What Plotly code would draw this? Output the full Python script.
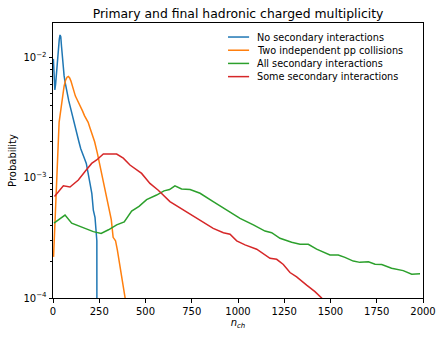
import plotly.graph_objects as go

# n_ch values and probabilities
blue_n = [2, 6, 10, 14, 18, 22, 26, 30, 34, 38, 42, 46, 50, 55, 60, 65, 70, 75, 80,
          85, 90, 95, 100, 110, 120, 130, 140, 150, 160, 170, 180, 190, 200, 210,
          218, 227, 234, 237, 238]
blue_p = [0.0098, 0.0072, 0.0054, 0.0060, 0.0072, 0.0090, 0.0108, 0.0125, 0.0143,
          0.0155, 0.0150, 0.0125, 0.0103, 0.0085, 0.0071, 0.0063, 0.0057, 0.0051,
          0.0047, 0.0044, 0.0041, 0.0038, 0.0035, 0.0030, 0.0027, 0.0023, 0.0020,
          0.00175, 0.00162, 0.00145, 0.00132, 0.00112, 0.00090, 0.00074, 0.00054,
          0.00047, 0.00037, 0.00030, 0.000001]

orange_n = [3, 8, 13, 18, 23, 28, 33, 38, 45, 52, 60, 68, 76, 83, 90, 97, 105, 113,
            121, 130, 140, 150, 160, 170, 180, 190, 200, 212, 225, 240, 255, 270,
            285, 300, 315, 325, 332, 338, 348, 360, 375, 390, 400]
orange_p = [0.00022, 0.00035, 0.0006, 0.0010, 0.0016, 0.0023, 0.0029, 0.0033,
            0.0040, 0.0048, 0.0058, 0.0065, 0.0069, 0.0070, 0.0068, 0.0064, 0.0058,
            0.0052, 0.0048, 0.0045, 0.0042, 0.0039, 0.0036, 0.0033, 0.0031, 0.0029,
            0.0026, 0.0023, 0.0020, 0.0016, 0.00124, 0.00098, 0.00075, 0.00058,
            0.00045, 0.00032, 0.00031, 0.00030, 0.00025, 0.00019, 0.00014, 0.0001,
            0.00008]

green_n = [5, 30, 65, 101, 155, 218, 260, 300, 344, 385, 425, 465, 506, 560, 600,
           630, 659, 695, 741, 795, 866, 939, 1011, 1083, 1146, 1182, 1227, 1290,
           1335, 1380, 1425, 1497, 1542, 1578, 1623, 1659, 1705, 1741, 1777, 1830,
           1893, 1939, 1984]
green_p = [0.00042, 0.00045, 0.00049, 0.00042, 0.00039, 0.000357, 0.000345,
           0.00037, 0.000406, 0.00043, 0.00053, 0.00058, 0.00066, 0.00072, 0.00078,
           0.0008, 0.00086, 0.00081, 0.00080, 0.000745, 0.000635, 0.00054, 0.00046,
           0.000406, 0.000361, 0.00035, 0.000314, 0.000291, 0.00028, 0.00028,
           0.000255, 0.000228, 0.000228, 0.000218, 0.000203, 0.000198, 0.0002,
           0.000191, 0.00019, 0.000177, 0.000169, 0.000158, 0.000159]

red_n = [8, 56, 92, 137, 173, 209, 236, 272, 344, 380, 416, 479, 524, 569, 632,
         705, 768, 812, 866, 921, 957, 993, 1038, 1101, 1173, 1209, 1245, 1281,
         1317, 1371, 1416, 1452, 1480]
red_p = [0.0007, 0.00086, 0.00084, 0.00096, 0.00113, 0.00132, 0.00141, 0.00158,
         0.00158, 0.00146, 0.00128, 0.00109, 0.0009, 0.00079, 0.000635, 0.00054,
         0.000476, 0.00043, 0.00038, 0.00035, 0.00034, 0.000299, 0.000277,
         0.000255, 0.000214, 0.00021, 0.00019, 0.000163, 0.00015, 0.000128,
         0.000113, 0.0001, 0.00008]

series = [
    ("No secondary interactions", blue_n, blue_p, "#1f77b4"),
    ("Two independent pp collisions", orange_n, orange_p, "#ff7f0e"),
    ("All secondary interactions", green_n, green_p, "#2ca02c"),
    ("Some secondary interactions", red_n, red_p, "#d62728"),
]

x_ticks = [0, 250, 500, 750, 1000, 1250, 1500, 1750, 2000]
y_ticks = [1e-4, 1e-3, 1e-2]
y_ticktext = ["10<sup>\u22124</sup>", "10<sup>\u22123</sup>", "10<sup>\u22122</sup>"]
y_minor = [m * 10.0 ** k for k in (-4, -3, -2) for m in range(2, 10)]

fig = go.Figure()
for name, xs, ys, color in series:
    fig.add_trace(
        go.Scatter(x=xs, y=ys, mode="lines", name=name, showlegend=False,
                   line=dict(color=color, width=1.5))
    )

# matplotlib-like compact legend (plotly's own legend rows are too tall)
leg_top, leg_step = 0.949, 0.048
for i, (name, _, _, color) in enumerate(series):
    yy = leg_top - i * leg_step
    fig.add_shape(type="line", xref="paper", yref="paper",
                  x0=0.473, x1=0.530, y0=yy, y1=yy,
                  line=dict(color=color, width=1.5))
    fig.add_annotation(text=name, xref="paper", yref="paper", x=0.547, y=yy,
                       xanchor="left", yanchor="middle", showarrow=False,
                       font=dict(size=9.7, color="black"))

axis_common = dict(
    showline=True, linecolor="black", linewidth=1, mirror=True,
    ticks="outside", ticklen=3.5, tickwidth=0.8, tickcolor="black",
    showgrid=False, zeroline=False, automargin=False,
    tickfont=dict(size=10, color="black"),
)

fig.update_layout(
    width=444, height=338,
    paper_bgcolor="white", plot_bgcolor="white",
    font=dict(family="DejaVu Sans", color="black"),
    title=dict(text="Primary and final hadronic charged multiplicity",
               x=0.5, xref="paper", xanchor="center",
               yref="container", y=0.96, yanchor="middle",
               font=dict(size=12.4)),
    margin=dict(l=53, r=21, t=23, b=40),
    xaxis=dict(range=[0, 2000], tickvals=x_ticks,
               title=dict(text="<i>n</i><sub><i>ch</i></sub>", standoff=2,
                          font=dict(size=10)),
               **axis_common),
    yaxis=dict(type="log", range=[-4, -1.71], tickvals=y_ticks,
               ticktext=y_ticktext,
               minor=dict(tickvals=y_minor, ticks="outside", ticklen=2,
                          tickcolor="black", tickwidth=0.6),
               title=dict(text="Probability", standoff=4, font=dict(size=10)),
               **axis_common),
)

fig.write_html("out.html", config={"displayModeBar": False},
               post_script="document.body.style.margin='0';")
